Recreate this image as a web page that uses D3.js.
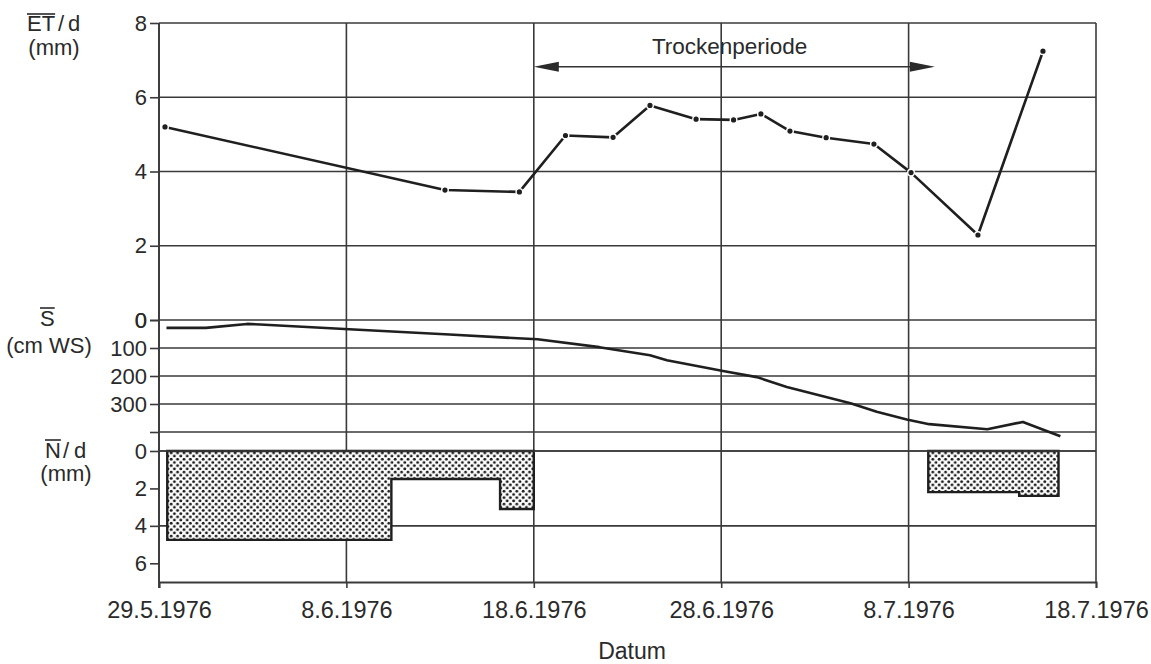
<!DOCTYPE html>
<html><head><meta charset="utf-8">
<script src="https://cdn.jsdelivr.net/npm/d3@7/dist/d3.min.js"></script>
<style>
body{margin:0;background:#fff}
svg{display:block}
text{font-family:"Liberation Sans",Arial,Helvetica,sans-serif;fill:#2a2a2a}
</style>
</head><body>
<svg id="chart" width="1151" height="664"></svg>
<script>
// ---- data (x = days after 29.5.1976) ----
const dateTicks = [0, 10, 20, 30, 40, 50];
const dateLabels = ["29.5.1976", "8.6.1976", "18.6.1976", "28.6.1976", "8.7.1976", "18.7.1976"];

const etTicks = [0, 2, 4, 6, 8];
const etDays   = [0.32, 15.26, 19.23, 21.69, 24.23, 26.2, 28.66, 30.66, 32.12, 33.67, 35.6, 38.15, 40.13, 43.7, 47.17];
const etValues = [5.2, 3.5, 3.45, 4.97, 4.92, 5.78, 5.41, 5.39, 5.55, 5.09, 4.91, 4.74, 3.97, 2.29, 7.24];

const sTicks = [0, 100, 200, 300, 400];
const sTickLabels = ["0", "100", "200", "300", ""];
const sDays   = [0.4, 2.5, 4.7, 5.4, 10.4, 15.5, 20.2, 23.5, 26.2, 27.1, 30.1, 31.9, 33.5, 36.9, 38.3, 39.9, 41.1, 44.2, 46.1, 48.1];
const sValues = [28, 28, 14, 16, 34, 52, 69, 97, 126, 144, 182, 204, 239, 297, 328, 355, 372, 390, 364, 415];

const nTicks = [0, 2, 4, 6];
const nGrid = [0, 4];
const nStart  = [0.44, 12.4, 18.2, 41.05, 45.9];
const nEnd    = [12.4, 18.2, 20.0, 45.9, 48.0];
const nValues = [4.75, 1.5, 3.1, 2.2, 2.4];

const dryStart = 20, dryEnd = 41.4, dryLevel = 6.82;
const dryLabel = "Trockenperiode", dryLabelDay = 30.45, dryLabelLevel = 7.17;

// ---- scales ----
const svg = d3.select("#chart");
svg.append("rect").attr("width", 1151).attr("height", 664).attr("fill", "#fff");

const x   = d3.scaleLinear().domain([0, 50]).range([159, 1096]);
const yET = d3.scaleLinear().domain([0, 8]).range([320, 23]);
const yS  = d3.scaleLinear().domain([0, 400]).range([320, 432]);
const yN  = d3.scaleLinear().domain([0, 7]).range([451, 582]);

const gridColor = "#3a3a3a", inkColor = "#1f1f1f";

// pattern for precipitation
const defs = svg.append("defs");
const pat = defs.append("pattern").attr("id", "dots").attr("patternUnits", "userSpaceOnUse")
  .attr("width", 6.4).attr("height", 6.4);
pat.append("rect").attr("width", 6.4).attr("height", 6.4).attr("fill", "#fff");
pat.append("circle").attr("cx", 1.6).attr("cy", 1.6).attr("r", 1.45).attr("fill", "#1a1a1a");
pat.append("circle").attr("cx", 4.8).attr("cy", 4.8).attr("r", 1.45).attr("fill", "#1a1a1a");

// ---- grid ----
const grid = svg.append("g").attr("stroke", gridColor).attr("stroke-width", 1.6);
const hLines = [].concat(
  etTicks.map(d => yET(d)),
  sTicks.filter(d => d > 0).map(d => yS(d)),
  nGrid.map(d => yN(d))
);
grid.selectAll("line.h").data(hLines).join("line").attr("class", "h")
  .attr("x1", x(0)).attr("x2", x(50)).attr("y1", d => d).attr("y2", d => d);
grid.selectAll("line.v").data(dateTicks).join("line").attr("class", "v")
  .attr("x1", d => x(d)).attr("x2", d => x(d)).attr("y1", yET(8)).attr("y2", yN(7));

// ---- y axes ----
function styleAxis(g, fs) {
  g.select(".domain").remove();
  g.selectAll(".tick line").attr("stroke", gridColor).attr("stroke-width", 1.6);
  g.selectAll(".tick text").attr("font-size", fs).attr("fill", "#2a2a2a")
    .attr("font-family", "'Liberation Sans',Arial,sans-serif");
}
svg.append("g").attr("transform", `translate(${x(0)},0)`)
  .call(d3.axisLeft(yET).tickValues(etTicks).tickSize(9).tickPadding(3).tickFormat(d3.format("d")))
  .call(g => styleAxis(g, 22));
svg.append("g").attr("transform", `translate(${x(0)},0)`)
  .call(d3.axisLeft(yS).tickValues(sTicks).tickSize(9).tickPadding(3).tickFormat((d, i) => sTickLabels[i]))
  .call(g => styleAxis(g, 22));
svg.append("g").attr("transform", `translate(${x(0)},0)`)
  .call(d3.axisLeft(yN).tickValues(nTicks).tickSize(9).tickPadding(3).tickFormat(d3.format("d")))
  .call(g => styleAxis(g, 22));

// ---- x axis ----
const xa = svg.append("g").attr("transform", `translate(0,${yN(7)})`)
  .call(d3.axisBottom(x).tickValues(dateTicks).tickSize(6).tickPadding(13).tickFormat((d, i) => dateLabels[i]));
xa.select(".domain").attr("stroke", gridColor).attr("stroke-width", 1.8);
xa.selectAll(".tick line").attr("stroke", gridColor).attr("stroke-width", 1.6);
xa.selectAll(".tick text").attr("font-size", 23.5).attr("fill", "#2a2a2a")
  .attr("font-family", "'Liberation Sans',Arial,sans-serif");

// left axis line
svg.append("line").attr("x1", x(0)).attr("x2", x(0)).attr("y1", yET(8)).attr("y2", yN(7) + 6)
  .attr("stroke", gridColor).attr("stroke-width", 1.8);

// ---- precipitation blocks ----
const blocks = [];
nStart.forEach((s, i) => {
  const seg = {s, e: nEnd[i], v: nValues[i]};
  const last = blocks[blocks.length - 1];
  if (last && Math.abs(last[last.length - 1].e - s) < 1e-6) last.push(seg); else blocks.push([seg]);
});
const stepLine = d3.line().x(d => x(d[0])).y(d => yN(d[1]));
blocks.forEach(b => {
  const pts = [[b[0].s, 0]];
  b.forEach(seg => { pts.push([seg.s, seg.v]); pts.push([seg.e, seg.v]); });
  pts.push([b[b.length - 1].e, 0]);
  svg.append("path").attr("d", stepLine(pts) + "Z")
    .attr("fill", "url(#dots)").attr("stroke", inkColor).attr("stroke-width", 2.4)
    .attr("stroke-linejoin", "miter");
});
// redraw N zero line on top
svg.append("line").attr("x1", x(0)).attr("x2", x(50)).attr("y1", yN(0)).attr("y2", yN(0))
  .attr("stroke", gridColor).attr("stroke-width", 1.6);

// ---- S line ----
svg.append("path").datum(sDays.map((d, i) => [d, sValues[i]]))
  .attr("d", d3.line().x(d => x(d[0])).y(d => yS(d[1])))
  .attr("fill", "none").attr("stroke", inkColor).attr("stroke-width", 2.6).attr("stroke-linejoin", "round");

// ---- ET line ----
const etData = etDays.map((d, i) => [d, etValues[i]]);
svg.append("path").datum(etData)
  .attr("d", d3.line().x(d => x(d[0])).y(d => yET(d[1])))
  .attr("fill", "none").attr("stroke", inkColor).attr("stroke-width", 2.6).attr("stroke-linejoin", "round");
svg.selectAll("circle.et").data(etData).join("circle").attr("class", "et")
  .attr("cx", d => x(d[0])).attr("cy", d => yET(d[1])).attr("r", 3.3)
  .attr("fill", inkColor).attr("stroke", "#fff").attr("stroke-width", 1.4);

// ---- dry period arrow ----
const ay = yET(dryLevel), ax1 = x(dryStart), ax2 = x(dryEnd);
svg.append("line").attr("x1", ax1 + 10).attr("x2", ax2 - 10).attr("y1", ay).attr("y2", ay)
  .attr("stroke", "#333").attr("stroke-width", 1.6);
svg.append("polygon").attr("points", `${ax1},${ay} ${ax1 + 25},${ay - 5} ${ax1 + 25},${ay + 5}`).attr("fill", "#2a2a2a");
svg.append("polygon").attr("points", `${ax2},${ay} ${ax2 - 25},${ay - 5} ${ax2 - 25},${ay + 5}`).attr("fill", "#2a2a2a");
svg.append("text").attr("x", x(dryLabelDay)).attr("y", yET(dryLabelLevel)).attr("text-anchor", "middle")
  .attr("font-size", 22.5).text(dryLabel);

// ---- panel labels ----
function over(x1, x2, y) {
  svg.append("line").attr("x1", x1).attr("x2", x2).attr("y1", y).attr("y2", y)
    .attr("stroke", "#2a2a2a").attr("stroke-width", 1.6);
}
const fs = 22;
// ET / d
const t1 = svg.append("text").attr("x", 27).attr("y", 31).attr("font-size", fs).text("ET");
const w1 = t1.node().getComputedTextLength();
over(27, 27 + w1, 14);
svg.append("text").attr("x", 58).attr("y", 31).attr("font-size", fs).text("/");
svg.append("text").attr("x", 68).attr("y", 31).attr("font-size", fs).text("d");
svg.append("text").attr("x", 54).attr("y", 55).attr("text-anchor", "middle").attr("font-size", fs).text("(mm)");
// S
const t2 = svg.append("text").attr("x", 40).attr("y", 326).attr("font-size", fs).text("S");
const w2 = t2.node().getComputedTextLength();
over(40, 40 + w2, 308);
svg.append("text").attr("x", 49).attr("y", 353).attr("text-anchor", "middle").attr("font-size", fs).text("(cm WS)");
// N / d
const t3 = svg.append("text").attr("x", 45).attr("y", 458).attr("font-size", fs).text("N");
const w3 = t3.node().getComputedTextLength();
over(45, 45 + w3, 440);
svg.append("text").attr("x", 63).attr("y", 458).attr("font-size", fs).text("/");
svg.append("text").attr("x", 74).attr("y", 458).attr("font-size", fs).text("d");
svg.append("text").attr("x", 66).attr("y", 481).attr("text-anchor", "middle").attr("font-size", fs).text("(mm)");

// x title
svg.append("text").attr("x", 632).attr("y", 659).attr("text-anchor", "middle").attr("font-size", 23).text("Datum");
</script>
</body></html>
